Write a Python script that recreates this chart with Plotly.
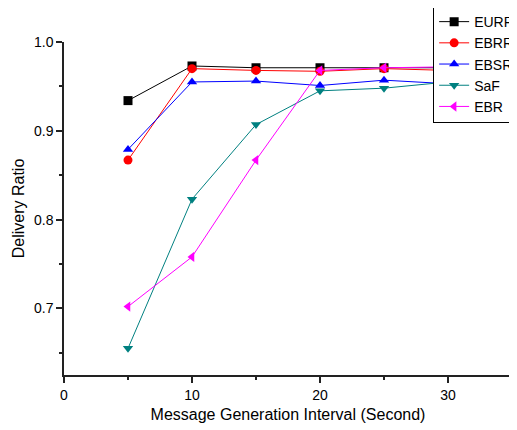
import plotly.graph_objects as go

x_vals = [5, 10, 15, 20, 25, 30]
series_names = ["EURR", "EBRR", "EBSR", "SaF", "EBR"]
eurr = [0.934, 0.973, 0.971, 0.971, 0.971, 0.971]
ebrr = [0.867, 0.970, 0.968, 0.967, 0.970, 0.968]
ebsr = [0.879, 0.955, 0.956, 0.951, 0.957, 0.953]
saf = [0.655, 0.823, 0.907, 0.945, 0.948, 0.955]
ebr = [0.702, 0.758, 0.867, 0.968, 0.971, 0.972]

colors = ["#000000", "#ff0000", "#0000ff", "#008080", "#ff00ff"]
symbols = ["square", "circle", "triangle-up", "triangle-down", "triangle-left"]
data = [eurr, ebrr, ebsr, saf, ebr]

fig = go.Figure()
for name, ys, c, s in zip(series_names, data, colors, symbols):
    fig.add_trace(go.Scatter(
        x=x_vals, y=ys, name=name, mode="lines+markers",
        line=dict(color=c, width=1),
        marker=dict(symbol=s, size=9, color=c),
    ))

axis_common = dict(
    showgrid=False, zeroline=False, showline=True, linecolor="#222222", linewidth=1.5,
    ticks="outside", ticklen=6, tickwidth=1.5, tickcolor="#222222",
    tickfont=dict(family="Liberation Sans, Arial", size=14, color="#000"),
    title_font=dict(family="Liberation Sans, Arial", size=16, color="#000"),
)

fig.update_xaxes(range=[0, 35], dtick=10, tick0=0,
                 minor=dict(ticks="outside", dtick=5, ticklen=3, tickcolor="#222222", tickwidth=1.5),
                 title_text="Message Generation Interval (Second)", title_standoff=7, **axis_common)
fig.update_yaxes(range=[0.625, 1.0], dtick=0.1, tick0=0.7, tickformat=".1f",
                 minor=dict(ticks="outside", dtick=0.05, ticklen=3, tickcolor="#222222", tickwidth=1.5),
                 title_text="Delivery Ratio", title_standoff=5, **axis_common)

# page body has an 8px default margin; margins compensate so the plot area lands as in the reference
fig.update_layout(
    width=517, height=430,
    margin=dict(l=56, r=13, t=34, b=63, autoexpand=False),
    paper_bgcolor="white", plot_bgcolor="white",
    showlegend=True,
    legend=dict(x=0.824, y=1.111, xanchor="left", yanchor="top",
                bgcolor="white", bordercolor="#000", borderwidth=1,
                font=dict(family="Liberation Sans, Arial", size=14, color="#000"),
                tracegroupgap=0),
)

fig.write_html("out.html")
